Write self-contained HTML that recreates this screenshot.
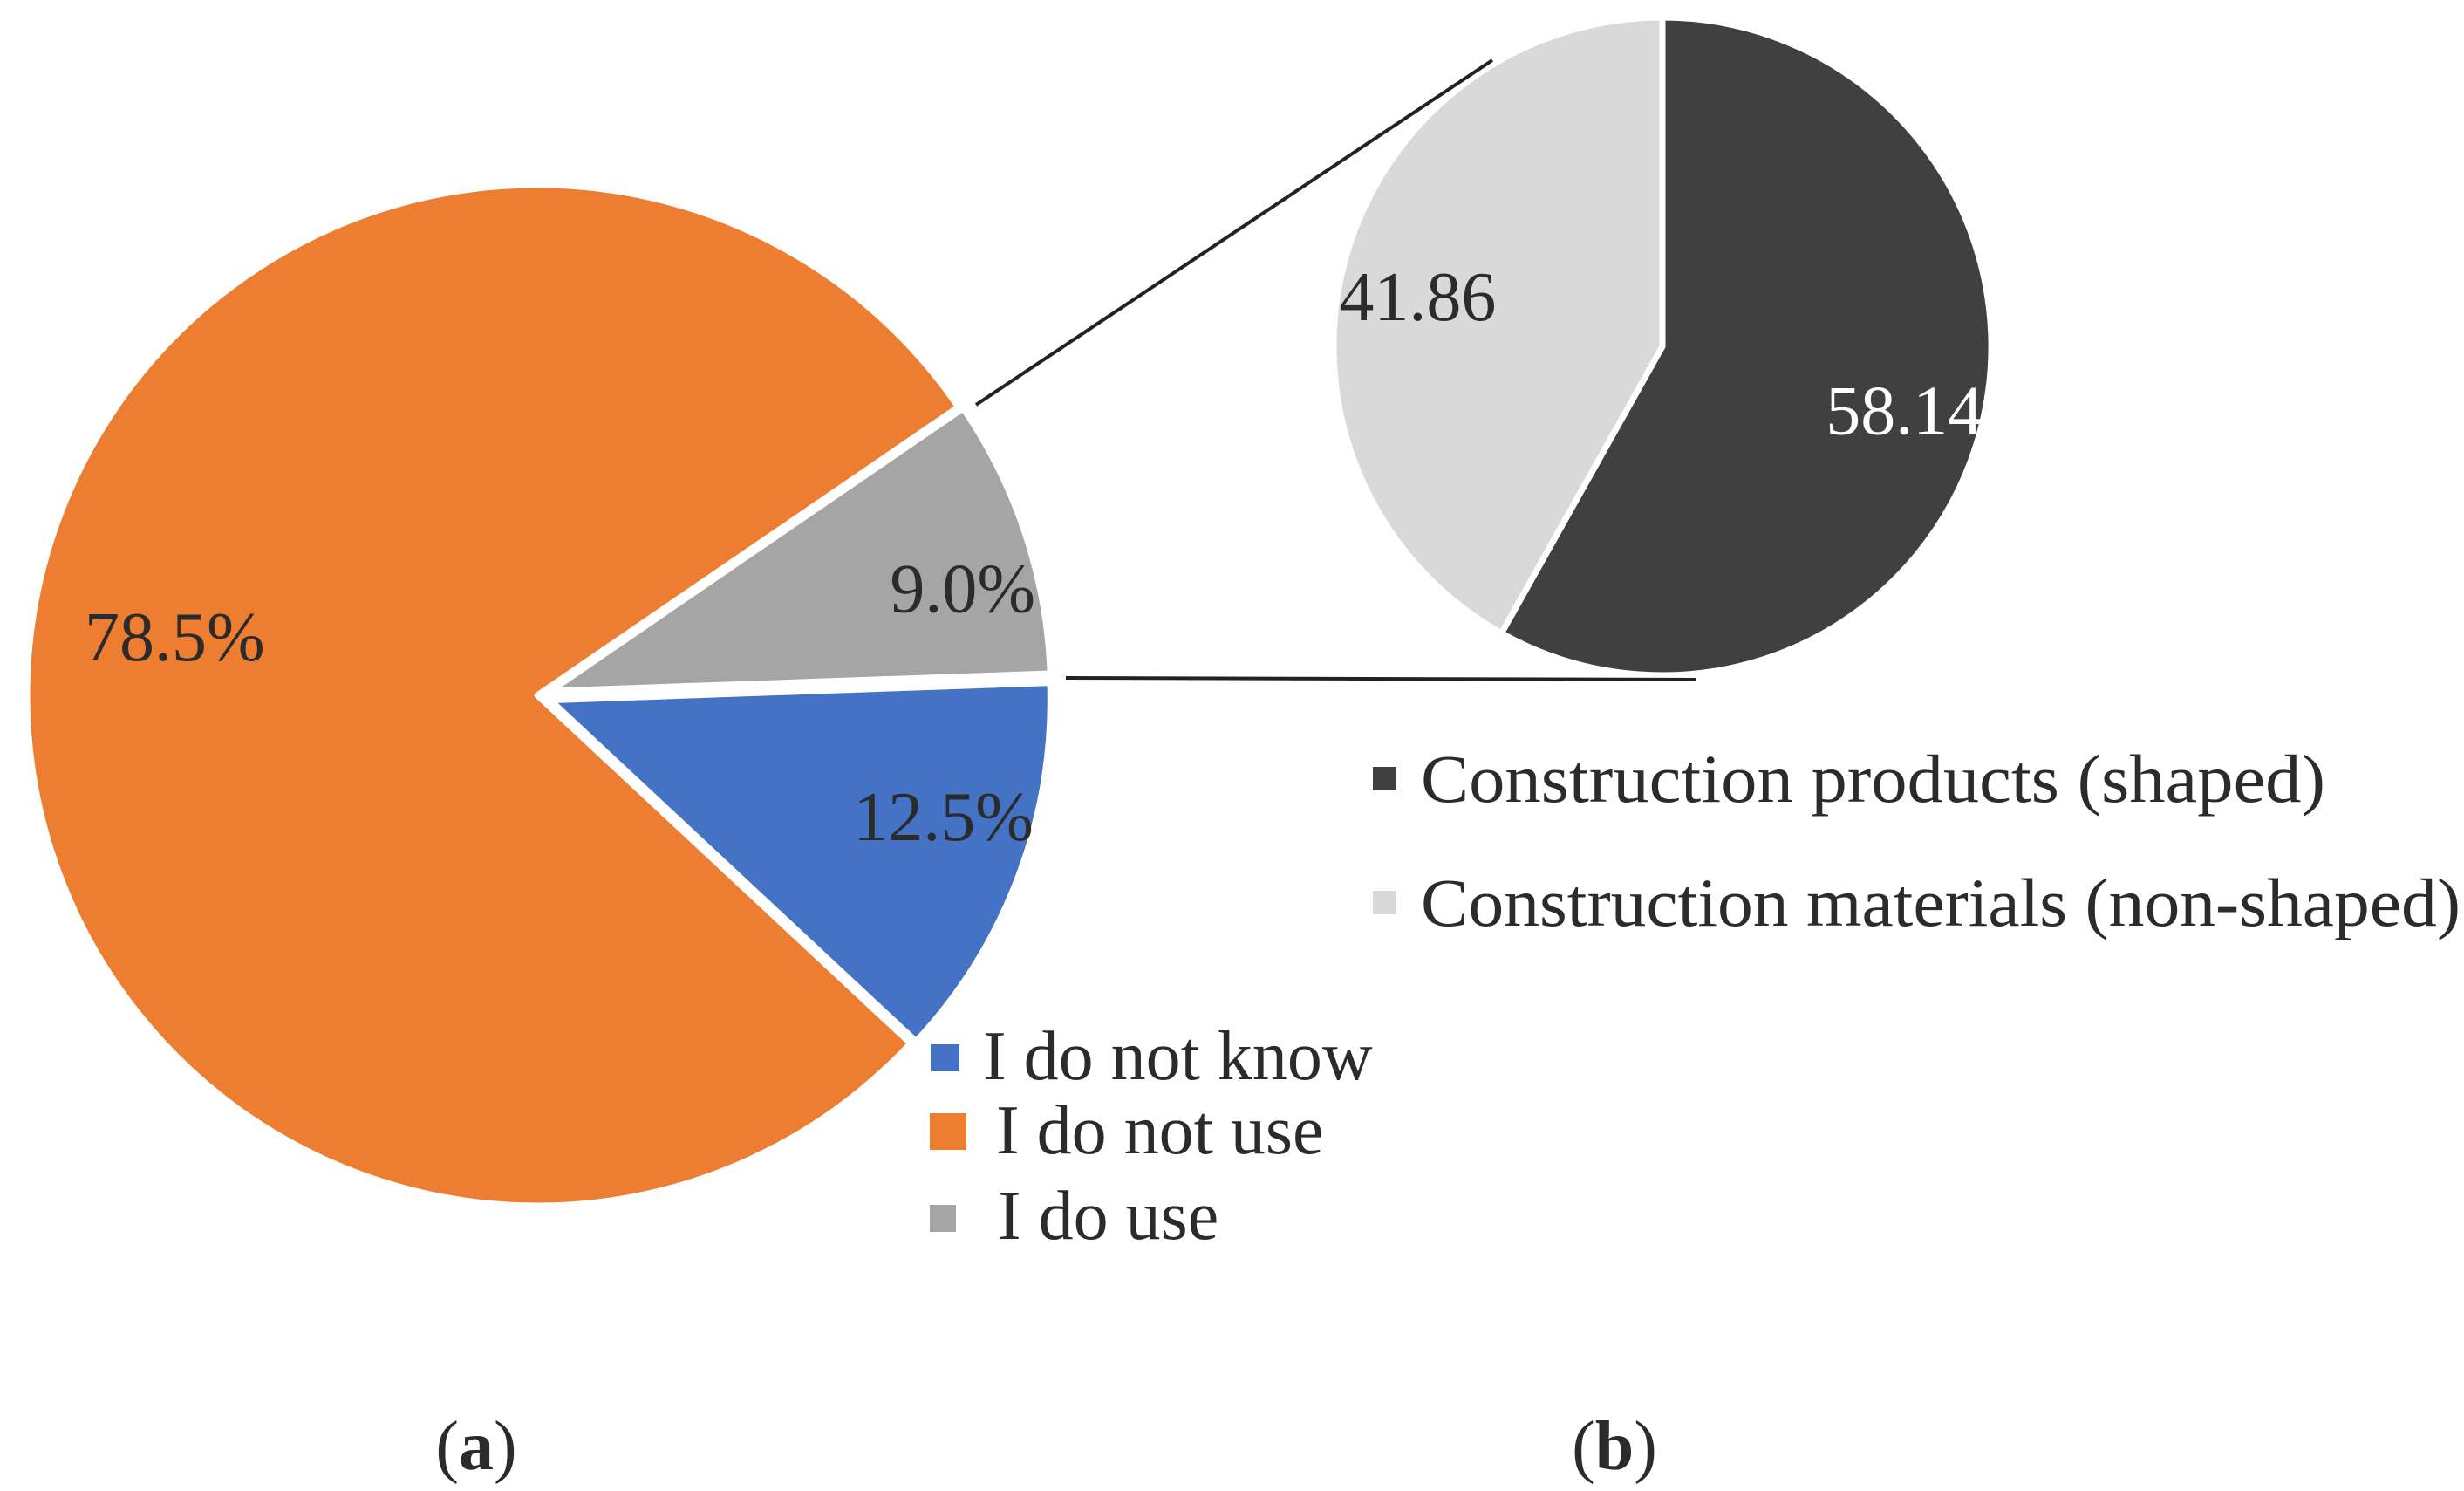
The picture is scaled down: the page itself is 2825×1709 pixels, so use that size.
<!DOCTYPE html>
<html><head><meta charset="utf-8"><style>
html,body{margin:0;padding:0;background:#fff}
svg{display:block}
text{font-family:"Liberation Serif",serif;fill:#2b2b2b}
</style></head><body>
<svg id="chart" width="2825" height="1709" viewBox="0 0 2825 1709">
<g id="mainPie"></g>
<g id="subPie"></g>
<line x1="1119" y1="464" x2="1711" y2="69" stroke="#222" stroke-width="4"/>
<line x1="1222" y1="777" x2="1944" y2="779" stroke="#222" stroke-width="4"/>
<g>
<rect x="1067" y="1197" width="33" height="31" fill="#4472C4"/>
<text x="1127" y="1237" font-size="80">I do not know</text>
<rect x="1066" y="1276" width="42" height="42" fill="#ED7D31"/>
<text x="1142" y="1322" font-size="80">I do not use</text>
<rect x="1066" y="1381" width="30" height="31" fill="#A5A5A5"/>
<text x="1144" y="1420" font-size="80">I do use</text>
</g>
<g>
<rect x="1574" y="879" width="27" height="27" fill="#404040"/>
<text x="1629" y="919" font-size="78" textLength="1037" lengthAdjust="spacingAndGlyphs">Construction products (shaped)</text>
<rect x="1574" y="1021" width="27" height="27" fill="#D9D9D9"/>
<text x="1629" y="1061" font-size="78" textLength="1192" lengthAdjust="spacingAndGlyphs">Construction materials (non-shaped)</text>
</g>
<text x="546" y="1684" font-size="80" text-anchor="middle">(<tspan font-weight="bold">a</tspan>)</text>
<text x="1851" y="1684" font-size="80" text-anchor="middle">(<tspan font-weight="bold">b</tspan>)</text>
</svg>
<script>
const mainCategories = ["I do not know", "I do not use", "I do use"];
const mainValues = [12.5, 78.5, 9.0];
const mainLabels = ["12.5%", "78.5%", "9.0%"];
const mainColors = ["#4472C4", "#ED7D31", "#A5A5A5"];
const subCategories = ["Construction products (shaped)", "Construction materials (non-shaped)"];
const subValues = [58.14, 41.86];
const subLabels = ["58.14", "41.86"];
const subColors = ["#404040", "#D9D9D9"];

const NS = "http://www.w3.org/2000/svg";
function pt(cx, cy, r, a) { return [cx + r * Math.cos(a), cy + r * Math.sin(a)]; }
function arcPath(cx, cy, r, a0, a1) {
  const p0 = pt(cx, cy, r, a0), p1 = pt(cx, cy, r, a1);
  const large = Math.abs(a1 - a0) > Math.PI ? 1 : 0;
  const sweep = a1 > a0 ? 1 : 0;
  return `M${cx},${cy}L${p0[0]},${p0[1]}A${r},${r} 0 ${large} ${sweep} ${p1[0]},${p1[1]}Z`;
}
function drawPie(g, values, labels, colors, cats, cx, cy, r, start, explode, rads, labelR, labelShift, labelColors, prefix) {
  const total = values.reduce((a, b) => a + b, 0);
  let a = start;
  values.forEach((v, i) => {
    const sweep = v / total * 2 * Math.PI;
    const a1 = a + sweep, mid = a + sweep / 2;
    const ex = explode[i];
    const ox = cx + ex * Math.cos(mid), oy = cy + ex * Math.sin(mid);
    const p = document.createElementNS(NS, "path");
    p.setAttribute("d", arcPath(ox, oy, r * rads[i], a, a1));
    p.setAttribute("fill", colors[i]);
    p.setAttribute("stroke", "#fff");
    p.setAttribute("stroke-width", "7");
    p.setAttribute("stroke-linejoin", "round");
    
    
    g.appendChild(p);
    const la = mid + labelShift[i] * Math.PI / 180;
    const lp = pt(cx, cy, r * labelR[i], la);
    const t = document.createElementNS(NS, "text");
    t.setAttribute("x", lp[0]);
    t.setAttribute("y", lp[1] + 28);
    t.setAttribute("text-anchor", "middle");
    t.setAttribute("font-size", "80");
    t.setAttribute("style", "fill:" + labelColors[i]);
    t.textContent = labels[i];
    
    
    g.appendChild(t);
    a = a1;
  });
}
drawPie(document.getElementById("mainPie"), mainValues, mainLabels, mainColors, mainCategories,
  616, 797, 585, -2 * Math.PI / 180, [16, 0, 16], [0.98, 1, 0.98], [0.83, 0.72, 0.86], [-4, 5, 4],
  ["#2b2b2b", "#2b2b2b", "#2b2b2b"], "main");
drawPie(document.getElementById("subPie"), subValues, subLabels, subColors, subCategories,
  1906, 397, 377, -Math.PI / 2, [0, 0], [1, 1], [0.76, 0.76], [0, -3], ["#ffffff", "#2b2b2b"], "sub");
</script>
</body></html>
